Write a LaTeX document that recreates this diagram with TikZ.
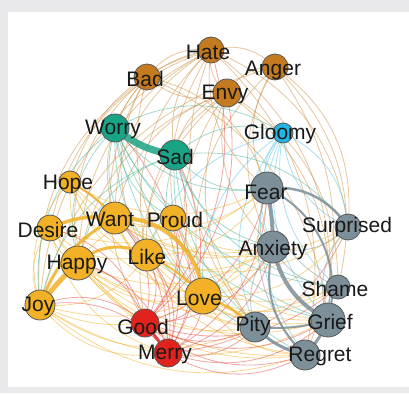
\documentclass[tikz,border=0pt]{standalone}
\usepackage{fontspec}
\setmainfont{Liberation Sans}
\definecolor{cBrown}{HTML}{C47A1E}
\definecolor{cTeal}{HTML}{1AA486}
\definecolor{cCyan}{HTML}{22B6E6}
\definecolor{cYel}{HTML}{F2B126}
\definecolor{cRed}{HTML}{E0231C}
\definecolor{cGrey}{HTML}{7D8F98}
\definecolor{cFrame}{HTML}{E9E9EC}
\tikzset{
  edg/.style={line width=0.8pt, opacity=0.5},
  eBrown/.style={edg, draw=cBrown!85},
  eTeal/.style={edg, draw=cTeal!80},
  eCyan/.style={edg, draw=cCyan!80},
  eYel/.style={edg, draw=cYel},
  eRed/.style={edg, draw=cRed!80},
  eGrey/.style={edg, draw=cGrey},
  thick edge/.style={opacity=0.85, line cap=round},
  cnode/.style={circle, draw=black!65, line width=0.8pt, inner sep=0pt},
  lbl/.style={inner sep=0pt, font=\fontsize{21}{21}\selectfont, text=black!90}
}
\begin{document}
\begin{tikzpicture}[x=1pt,y=-1pt]
\fill[cFrame] (0,0) rectangle (409,393);
\fill[white] (8,12) rectangle (409,387);
% node centres
\coordinate (hate) at (211,50);
\coordinate (anger) at (275,67);
\coordinate (bad) at (147,77);
\coordinate (envy) at (227,93);
\coordinate (worry) at (115,128);
\coordinate (sad) at (175,155);
\coordinate (gloomy) at (283,133);
\coordinate (hope) at (70,182);
\coordinate (fear) at (267,188);
\coordinate (want) at (115,218);
\coordinate (proud) at (173,218);
\coordinate (desire) at (50,228);
\coordinate (surprised) at (348,227);
\coordinate (anxiety) at (273,247);
\coordinate (happy) at (78,263);
\coordinate (like) at (147,255);
\coordinate (shame) at (338,287);
\coordinate (love) at (203,296);
\coordinate (joy) at (40,305);
\coordinate (good) at (145,323);
\coordinate (grief) at (328,320);
\coordinate (pity) at (255,327);
\coordinate (merry) at (168,353);
\coordinate (regret) at (305,355);
% thin edges
\foreach \a/\b in {hate/bad, anger/hate, hate/envy, hate/worry, hate/sad, hate/want, hate/joy, hate/happy, hate/love, hate/like, grief/hate, surprised/hate, regret/hate, hate/pity, hate/desire, hate/hope, bad/envy, bad/want, bad/joy, bad/like, bad/love, bad/good, fear/bad, grief/bad, anger/envy, anger/fear, surprised/anger, shame/anger, anger/anxiety, anger/love, anger/joy, regret/anger, envy/love, envy/like, envy/want, envy/happy, envy/good, envy/pity, envy/anxiety, grief/envy, shame/envy, hate/fear, envy/sad, bad/happy}
  \draw[eBrown] (\a) to[bend right=30] (\b);
\foreach \a/\b in {worry/fear, worry/anxiety, worry/grief, gloomy/worry, worry/like, worry/happy, worry/proud, worry/love, worry/shame, worry/regret, sad/fear, sad/anxiety, sad/grief, gloomy/sad, sad/shame, surprised/sad, sad/pity, sad/regret, sad/happy, sad/joy, sad/love, worry/joy}
  \draw[eTeal] (\a) to[bend right=30] (\b);
\foreach \a/\b in {gloomy/surprised, gloomy/grief, gloomy/shame, gloomy/anxiety, gloomy/fear, gloomy/regret, gloomy/pity, gloomy/like, gloomy/love, surprised/gloomy}
  \draw[eCyan] (\a) to[bend right=30] (\b);
\foreach \a/\b in {hope/like, hope/love, hope/fear, hope/anxiety, hope/grief, want/like, want/proud, want/happy, want/fear, want/anxiety, want/surprised, want/regret, want/pity, proud/like, proud/love, proud/happy, proud/anxiety, proud/grief, desire/happy, desire/like, desire/love, desire/fear, desire/regret, happy/love, happy/pity, happy/anxiety, happy/grief, happy/regret, like/fear, like/anxiety, like/shame, like/grief, like/surprised, like/pity, love/anxiety, love/fear, love/grief, love/shame, love/surprised, love/regret, joy/like, joy/love, joy/regret, joy/pity, joy/grief, joy/anxiety, desire/joy, hope/joy, joy/merry, desire/merry, hope/good, happy/shame}
  \draw[eYel] (\a) to[bend right=30] (\b);
\foreach \a/\b in {good/like, good/love, good/want, good/happy, good/joy, good/pity, good/grief, good/regret, good/anxiety, good/fear, good/sad, good/envy, good/hate, good/proud, good/desire, good/shame, merry/like, merry/love, merry/want, merry/happy, merry/joy, merry/pity, merry/grief, merry/regret, merry/anxiety, merry/fear, merry/sad, merry/proud, merry/surprised, merry/hope, merry/worry}
  \draw[eRed] (\a) to[bend right=30] (\b);
\foreach \a/\b in {fear/shame, fear/regret, anxiety/shame, anxiety/surprised, shame/grief, surprised/grief, anxiety/pity}
  \draw[eGrey] (\a) to[bend right=30] (\b);
% strong edges
\draw[thick edge, draw=cTeal, line width=7pt] (worry) to[bend right=15] (sad);
\draw[thick edge, draw=cYel, line width=5pt] (joy) to[bend left=5] (happy);
\draw[thick edge, draw=cYel, line width=3pt] (joy) to[bend left=20] (want);
\draw[thick edge, draw=cYel, line width=3.5pt] (desire) to[bend left=15] (want);
\draw[thick edge, draw=cYel, line width=3pt] (happy) to[bend left=35] (like);
\draw[thick edge, draw=cYel, line width=4pt] (want) to[bend left=45] (love);
\draw[thick edge, draw=cYel, line width=2pt] (like) to[bend left=10] (love);
\draw[thick edge, draw=cYel, line width=2.5pt] (love) to[bend left=10] (pity);
\draw[thick edge, draw=cYel, line width=2pt] (hope) to[bend left=10] (want);
\draw[thick edge, draw=cRed, line width=3pt] (good) -- (merry);
\draw[thick edge, draw=cGrey, line width=4pt] (fear) to[bend left=5] (anxiety);
\draw[thick edge, draw=cGrey, line width=4pt] (anxiety) to[bend right=25] (grief);
\draw[thick edge, draw=cGrey, line width=3pt] (pity) to[bend right=15] (regret);
\draw[thick edge, draw=cGrey, line width=3pt] (grief) to[bend left=10] (regret);
\draw[thick edge, draw=cGrey, line width=2.5pt] (fear) to[bend left=30] (surprised);
\draw[thick edge, draw=cGrey, line width=2pt] (fear) to[bend left=40] (grief);
\draw[thick edge, draw=cGrey, line width=2pt] (pity) to[bend right=10] (grief);
\draw[thick edge, draw=cGrey, line width=2pt] (anxiety) to[bend right=30] (regret);
% nodes
\foreach \n/\c/\s in {hate/cBrown/26, anger/cBrown/26, bad/cBrown/26, envy/cBrown/28, worry/cTeal/28, sad/cTeal/30, gloomy/cCyan/20, hope/cYel/22, fear/cGrey/32, want/cYel/32, proud/cYel/26, desire/cYel/26, surprised/cGrey/26, anxiety/cGrey/32, happy/cYel/34, like/cYel/32, shame/cGrey/24, love/cYel/36, joy/cYel/30, good/cRed/28, grief/cGrey/34, pity/cGrey/30, merry/cRed/28, regret/cGrey/30}
  \node[cnode, fill=\c, minimum size=\s] (\n-c) at (\n) {};
% labels
\node[lbl] (hate-l) at (208,52) {Hate};
\node[lbl] (anger-l) at (273,70) {Anger};
\node[lbl] (bad-l) at (145,79) {Bad};
\node[lbl] (envy-l) at (225,94) {Envy};
\node[lbl] (worry-l) at (113,129) {Worry};
\node[lbl] (sad-l) at (175,157) {Sad};
\node[lbl] (gloomy-l) at (280,134) {Gloomy};
\node[lbl] (hope-l) at (68,184) {Hope};
\node[lbl] (fear-l) at (266,192) {Fear};
\node[lbl] (want-l) at (110,219) {Want};
\node[lbl] (proud-l) at (175,220) {Proud};
\node[lbl] (desire-l) at (48,230) {Desire};
\node[lbl] (surprised-l) at (347,227) {Surprised};
\node[lbl] (anxiety-l) at (273,250) {Anxiety};
\node[lbl] (happy-l) at (77,264) {Happy};
\node[lbl] (like-l) at (147,257) {Like};
\node[lbl] (shame-l) at (335,289) {Shame};
\node[lbl] (love-l) at (199,298) {Love};
\node[lbl] (joy-l) at (38,306) {Joy};
\node[lbl] (good-l) at (143,327) {Good};
\node[lbl] (grief-l) at (330,322) {Grief};
\node[lbl] (pity-l) at (253,326) {Pity};
\node[lbl] (merry-l) at (165,354) {Merry};
\node[lbl] (regret-l) at (320,356) {Regret};
\end{tikzpicture}
\end{document}
